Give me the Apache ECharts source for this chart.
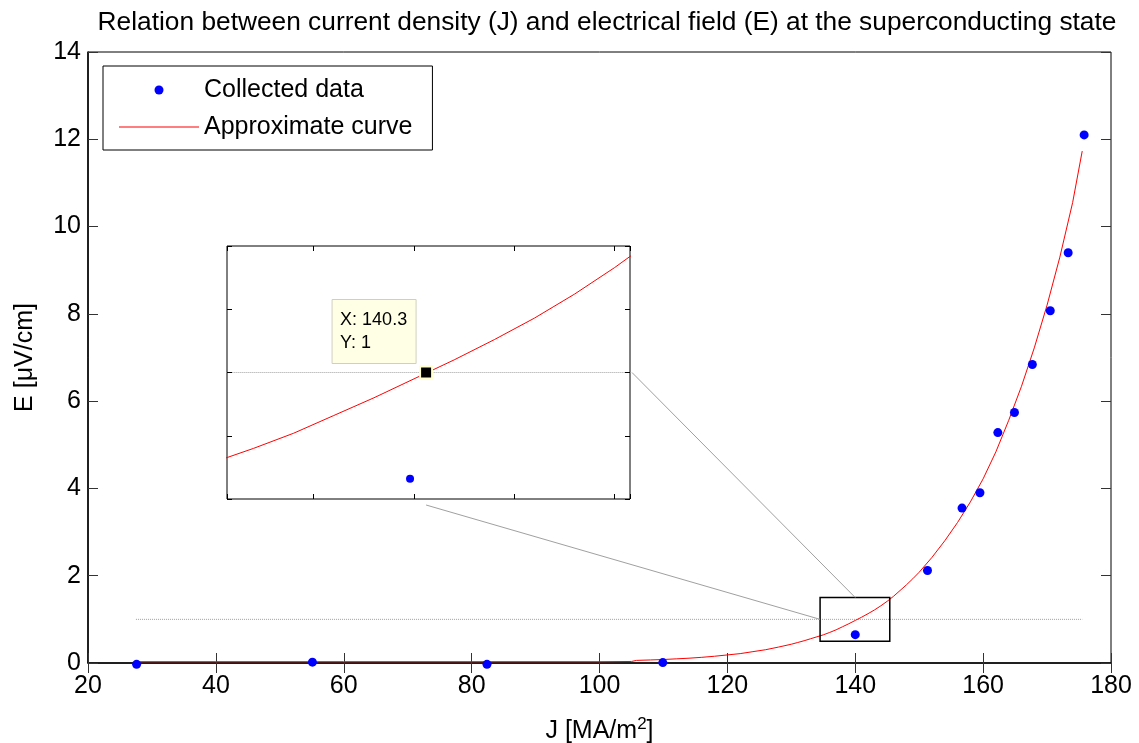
<!DOCTYPE html>
<html><head><meta charset="utf-8">
<script src="https://cdn.jsdelivr.net/npm/echarts@6/dist/echarts.min.js"></script>
<style>html,body{margin:0;padding:0;background:#fff}#c{width:1139px;height:743px}</style>
</head><body><div id="c"></div>
<script>
// ---- data ----
const pointsJ = [27.6, 55.1, 82.4, 109.9, 140.0, 151.3, 156.7, 159.5, 162.3, 164.9, 167.7, 170.5, 173.3, 175.8];
const pointsE = [-0.03, 0.02, -0.03, 0.01, 0.65, 2.12, 3.55, 3.90, 5.28, 5.74, 6.84, 8.07, 9.40, 12.10];
const curveJ = [27.5, 40, 60, 80, 100, 105, 105.8, 108, 110, 112, 114, 116, 118, 120, 122, 124, 126, 128, 130, 131, 132, 133, 134, 135, 136, 137, 138, 139, 140, 141, 142, 143, 144, 145, 146, 147, 148, 149, 150, 152, 154, 156, 158, 160, 162, 164, 166, 168, 170, 172, 174, 175.5];
const curveE = [0.03, 0.03, 0.03, 0.03, 0.03, 0.035, 0.06, 0.07, 0.08, 0.095, 0.11, 0.13, 0.155, 0.185, 0.215, 0.26, 0.305, 0.365, 0.43, 0.47, 0.51, 0.555, 0.60, 0.645, 0.70, 0.76, 0.83, 0.90, 0.975, 1.05, 1.13, 1.215, 1.31, 1.415, 1.53, 1.66, 1.79, 1.93, 2.08, 2.42, 2.80, 3.22, 3.69, 4.22, 4.84, 5.56, 6.34, 7.22, 8.20, 9.30, 10.55, 11.73];
const refLineJ = [27.5, 175.5];
const refLineE = [1, 1];
const zoomPointJ = [139.9];
const zoomPointE = [0.58];
const dataTipJ = [140.3];
const dataTipE = [1];
const zoomBoxJ = [134.5, 145.4];
const zoomBoxE = [0.5, 1.5];

const zip = (a, b) => a.map((v, i) => [v, b[i]]);
const FONT = 'Liberation Sans, Arial, Helvetica, sans-serif';

const chart = echarts.init(document.getElementById('c'), null, {renderer: 'canvas'});

const mainTick = {show: true, inside: true, length: 10, lineStyle: {color: '#333', width: 1}};
const insetTick = {show: true, inside: true, length: 5, lineStyle: {color: '#000', width: 1}};
const insetX = {gridIndex: 1, type: 'value', min: 135.34, max: 145.38, minInterval: 2.5, maxInterval: 2.5, splitNumber: 4, z: 8,
  axisLine: {show: false}, axisTick: insetTick, splitLine: {show: false}, axisLabel: {show: false}};
const insetY = {gridIndex: 1, type: 'value', min: 0.5, max: 1.5, interval: 0.25, z: 8,
  axisLine: {show: false}, axisTick: insetTick, splitLine: {show: false}, axisLabel: {show: false}};

const option = {
  animation: false,
  backgroundColor: '#fff',
  textStyle: {fontFamily: FONT},
  title: {
    text: 'Relation between current density (J) and electrical field (E) at the superconducting state',
    left: 602, top: 5, textAlign: 'center',
    textStyle: {fontFamily: FONT, fontSize: 26.3, fontWeight: 'normal', color: '#000'}
  },
  legend: {
    orient: 'vertical', left: 103, top: 66,
    data: [
      {name: 'Collected data', icon: 'circle'},
      {name: 'Approximate curve', icon: 'path://M0 0H80V1H0Z', itemStyle: {color: '#ff0000'}}
    ],
    backgroundColor: '#fff', borderColor: '#000', borderWidth: 1,
    padding: [10, 20, 9, 16], itemGap: 9, itemWidth: 80, itemHeight: 9, itemTextGap: 8,
    textStyle: {fontFamily: FONT, fontSize: 25, color: '#000', lineHeight: 28},
    selectedMode: false, z: 20
  },
  grid: [
    {left: 88, right: 28, top: 52, bottom: 80, show: true, borderColor: '#000', borderWidth: 1, backgroundColor: '#fff',
     containLabel: false, outerBoundsMode: 'none'},
    {left: 227, top: 246, width: 403, height: 253, show: true, borderColor: '#000', borderWidth: 1, backgroundColor: '#fff', z: 5,
     containLabel: false, outerBoundsMode: 'none'}
  ],
  xAxis: [
    {gridIndex: 0, type: 'value', position: 'bottom', min: 20, max: 180, interval: 20,
     name: 'J [MA/m{sup|2}]', nameLocation: 'middle', nameGap: 53,
     nameTextStyle: {fontFamily: FONT, fontSize: 25, color: '#000',
       rich: {sup: {fontFamily: FONT, fontSize: 17, color: '#000', padding: [0, 0, 14, 0]}}},
     axisLine: {show: true, onZero: false, lineStyle: {color: '#000', width: 1.5}},
     axisTick: mainTick, splitLine: {show: false},
     axisLabel: {fontFamily: FONT, fontSize: 25, color: '#000', margin: 11}},
    {gridIndex: 0, type: 'value', position: 'top', min: 20, max: 180, interval: 20,
     axisLine: {show: false}, axisTick: mainTick, splitLine: {show: false}, axisLabel: {show: false}},
    Object.assign({position: 'bottom'}, insetX),
    Object.assign({position: 'top'}, insetX)
  ],
  yAxis: [
    {gridIndex: 0, type: 'value', position: 'left', min: 0, max: 14, interval: 2,
     name: 'E [\u03bcV/cm]', nameLocation: 'middle', nameGap: 50,
     nameTextStyle: {fontFamily: FONT, fontSize: 25, color: '#000'},
     axisLine: {show: true, onZero: false, lineStyle: {color: '#000', width: 1.5}},
     axisTick: mainTick, splitLine: {show: false},
     axisLabel: {fontFamily: FONT, fontSize: 25, color: '#000', margin: 7}},
    {gridIndex: 0, type: 'value', position: 'right', min: 0, max: 14, interval: 2,
     axisLine: {show: false}, axisTick: mainTick, splitLine: {show: false}, axisLabel: {show: false}},
    Object.assign({position: 'left'}, insetY),
    Object.assign({position: 'right'}, insetY)
  ],
  series: [
    {name: 'E = 1 reference', type: 'line', xAxisIndex: 0, yAxisIndex: 0, data: zip(refLineJ, refLineE),
     symbol: 'none', lineStyle: {color: '#a0a0a0', width: 1, type: [1, 1]}, z: 2, silent: true},
    {name: 'Approximate curve', type: 'line', xAxisIndex: 0, yAxisIndex: 0, data: zip(curveJ, curveE),
     symbol: 'none', showSymbol: false, color: '#ff0000', lineStyle: {color: '#ff0000', width: 1}, z: 3},
    {name: 'Collected data', type: 'scatter', xAxisIndex: 0, yAxisIndex: 0, data: zip(pointsJ, pointsE),
     symbol: 'circle', symbolSize: 9, color: '#0000ff', itemStyle: {color: '#0000ff', opacity: 1}, clip: false, z: 4},
    {name: 'inset reference', type: 'line', xAxisIndex: 2, yAxisIndex: 2, data: zip(refLineJ, refLineE),
     symbol: 'none', lineStyle: {color: '#a0a0a0', width: 1, type: [1, 1]}, z: 6, clip: true, silent: true},
    {name: 'inset curve', type: 'line', xAxisIndex: 2, yAxisIndex: 2, data: zip(curveJ, curveE),
     symbol: 'none', lineStyle: {color: '#ff0000', width: 1}, z: 7, clip: true},
    {name: 'inset data', type: 'scatter', xAxisIndex: 2, yAxisIndex: 2, data: zip(zoomPointJ, zoomPointE),
     symbol: 'circle', symbolSize: 8, itemStyle: {color: '#0000ff', opacity: 1}, z: 8},
    {name: 'data tip', type: 'scatter', xAxisIndex: 2, yAxisIndex: 2, data: zip(dataTipJ, dataTipE),
     symbol: 'rect', symbolSize: 12, itemStyle: {color: '#000', opacity: 1, borderColor: '#ffffd0', borderWidth: 2}, z: 9}
  ]
};
chart.setOption(option);

// annotations placed through the library's coordinate conversion
const P = (idx, p) => chart.convertToPixel({xAxisIndex: idx, yAxisIndex: idx}, p);
const b0 = P(0, [zoomBoxJ[0], zoomBoxE[1]]);
const b1 = P(0, [zoomBoxJ[1], zoomBoxE[0]]);
const boxTopMid = P(0, [140, zoomBoxE[1]]);
const boxLeftMid = P(0, [zoomBoxJ[0], 1]);
const insetRight = P(2, [145.38, 1]);
const insetBottom = P(2, [dataTipJ[0], 0.5]);
const tip = P(2, [dataTipJ[0], dataTipE[0]]);
chart.setOption({
  graphic: [
    {type: 'rect', shape: {x: b0[0], y: b0[1], width: b1[0] - b0[0], height: b1[1] - b0[1]},
     style: {fill: null, stroke: '#000', lineWidth: 1.5}, z: 30},
    {type: 'line', shape: {x1: insetRight[0] + 2, y1: insetRight[1], x2: boxTopMid[0], y2: boxTopMid[1]},
     style: {stroke: '#a0a0a0', lineWidth: 1}, z: 30},
    {type: 'line', shape: {x1: insetBottom[0], y1: insetBottom[1] + 6, x2: boxLeftMid[0], y2: boxLeftMid[1]},
     style: {stroke: '#a0a0a0', lineWidth: 1}, z: 30},
    {type: 'rect', shape: {x: tip[0] - 94, y: tip[1] - 73, width: 84, height: 64},
     style: {fill: '#ffffe6', stroke: '#d0d0c0', lineWidth: 1}, z: 40},
    {type: 'text', x: tip[0] - 86, y: tip[1] - 52,
     style: {text: 'X: 140.3', font: '18px ' + FONT, fill: '#000', textVerticalAlign: 'middle'}, z: 41},
    {type: 'text', x: tip[0] - 86, y: tip[1] - 29,
     style: {text: 'Y: 1', font: '18px ' + FONT, fill: '#000', textVerticalAlign: 'middle'}, z: 41}
  ]
});
</script></body></html>
